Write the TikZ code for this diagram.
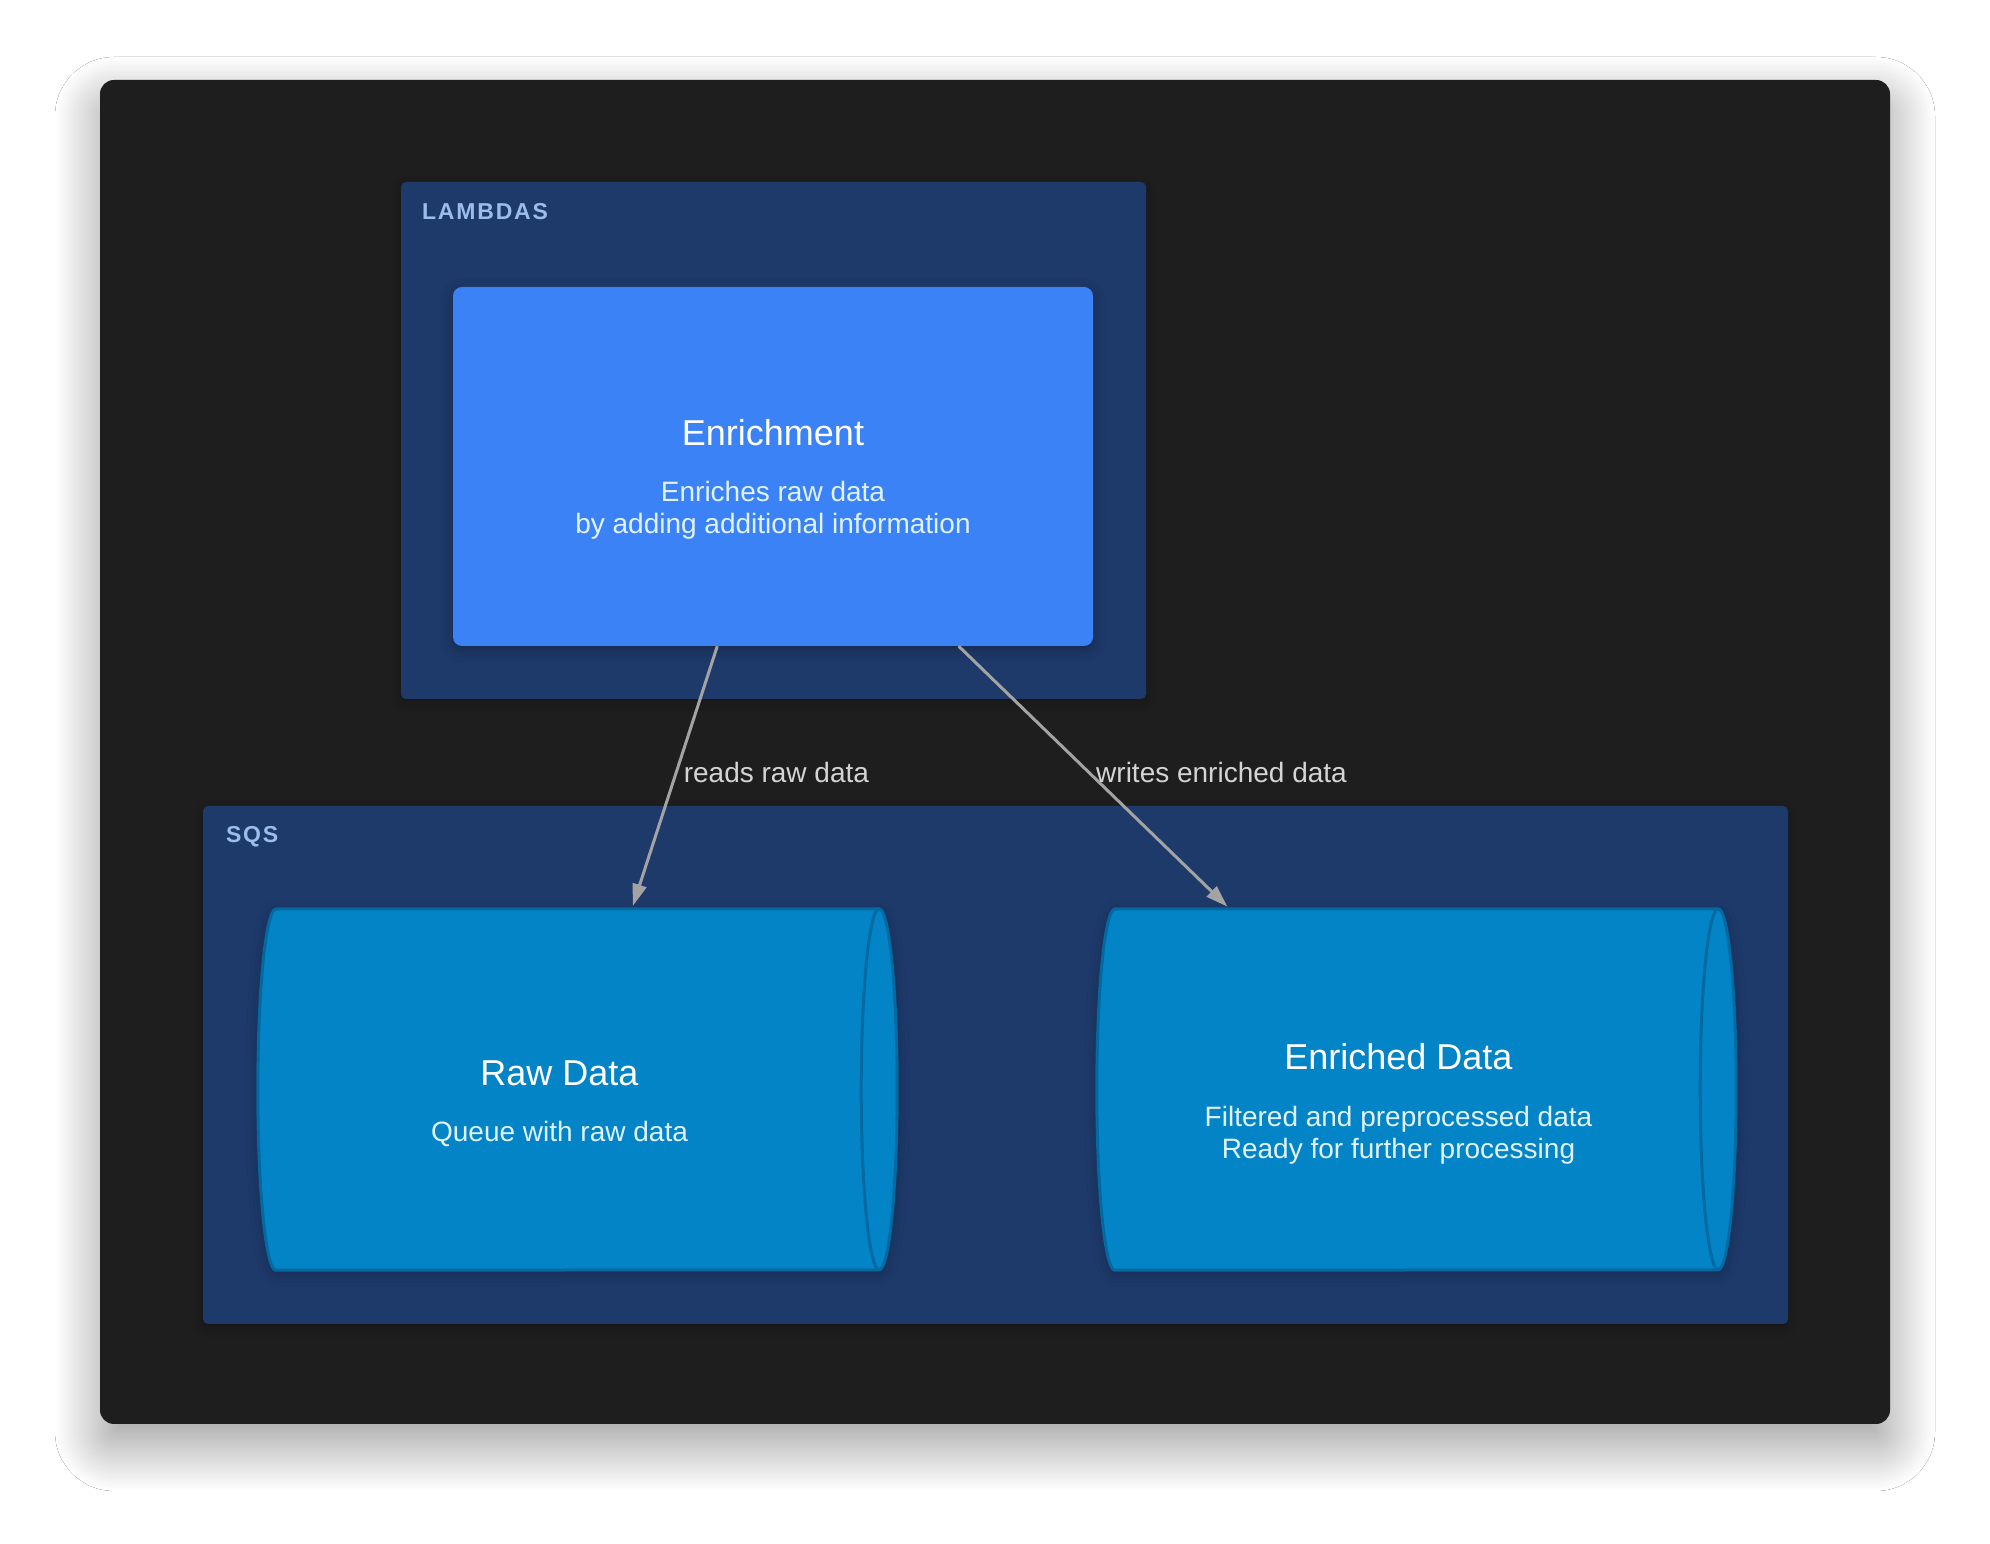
\documentclass[tikz,border=0pt]{standalone}
\usepackage{fontspec}
\setmainfont{Liberation Sans}
\usepackage{xcolor}
\usepackage{tikz}
\usetikzlibrary{arrows.meta,positioning,calc,shadows.blur}

\definecolor{canvas}{HTML}{1E1E1E}
\definecolor{groupbg}{HTML}{1E3A6B}
\definecolor{grouptxt}{HTML}{9BBDEB}
\definecolor{lambdabg}{HTML}{3B82F6}
\definecolor{queuebg}{HTML}{0284C7}
\definecolor{queueline}{HTML}{0369A1}
\definecolor{flowline}{HTML}{A3A3A3}
\definecolor{flowtxt}{HTML}{D4D4D4}
\definecolor{subtxt}{HTML}{E0F2FE}

\newcommand{\titlesize}{\fontsize{36}{40}\selectfont}
\newcommand{\subsize}{\fontsize{28}{32}\selectfont}

\begin{document}
\begin{tikzpicture}[x=1pt,y=1pt,
  group/.style={fill=groupbg,rounded corners=5pt,inner sep=0pt,
    blur shadow={shadow xshift=0pt,shadow yshift=-4pt,shadow blur radius=10pt,shadow opacity=25}},
  grouplabel/.style={anchor=base west,inner sep=0pt,text=grouptxt,
    font=\fontsize{23}{28}\selectfont\bfseries\addfontfeature{LetterSpace=8}},
  lambda/.style={fill=lambdabg,rounded corners=9pt,inner sep=0pt,
    blur shadow={shadow xshift=0pt,shadow yshift=-4pt,shadow blur radius=12pt,shadow opacity=30}},
  body/.style={inner sep=0pt,minimum width=603pt,minimum height=361pt},
  queue/.style={fill=queuebg,draw=queueline,line width=3pt,line join=round},
  desc/.style={align=center,text=white,font=\subsize,inner sep=0pt},
  flow/.style={draw=flowline,line width=3pt,-{Triangle[length=22pt,width=14pt]},shorten >=3pt},
  flowlabel/.style={anchor=west,text=flowtxt,font=\fontsize{28}{32}\selectfont,inner sep=6pt}]

  \fill[white] (0,0) rectangle (1990,1544);
  \useasboundingbox (0,0) rectangle (1990,1544);
  % Canvas
  \fill[canvas,rounded corners=14pt,
    blur shadow={shadow xshift=0pt,shadow yshift=-22pt,shadow blur radius=45pt,
      shadow blur steps=60,shadow opacity=40}]
    (100,120) rectangle (1890,1464);

  % Groups
  \node[group,minimum width=745pt,minimum height=517pt] (lambdas) at (773.5,1103.5) {};
  \node[grouplabel] (lambdaslbl) at ([shift={(21pt,-38pt)}]lambdas.north west) {LAMBDAS};
  \node[group,minimum width=1585pt,minimum height=518pt] (sqs) at (995.5,479) {};
  \node[grouplabel] (sqslbl) at ([shift={(23pt,-37pt)}]sqs.north west) {SQS};

  % Lambda
  \node[lambda,minimum width=640pt,minimum height=359pt] (enrich) at (773,1077.5) {};
  \node[desc] (enrichtxt) at ([yshift=-13pt]enrich.center)
    {{\titlesize Enrichment}\\[24.5pt]{\color{subtxt}Enriches raw data}\\{\color{subtxt}by adding additional information}};

  % Queues
  \node[body] (raw) at (559.5,454.5) {};
  \node[body] (enriched) at (1398.5,454.5) {};
  \foreach \q in {raw,enriched} {
    \draw[queue,blur shadow={shadow xshift=0pt,shadow yshift=-4pt,shadow blur radius=12pt,shadow opacity=25}]
      ($(\q.north west)+(18,0)$) -- ($(\q.north east)+(18,0)$)
      arc[start angle=90,end angle=-90,x radius=18,y radius=180.5]
      -- ($(\q.south west)+(18,0)$)
      arc[start angle=270,end angle=90,x radius=18,y radius=180.5] -- cycle;
    \draw[queueline,line width=3pt] ($(\q.north east)+(18,0)$)
      arc[start angle=90,end angle=270,x radius=18,y radius=180.5];
  }
  \node[desc] (rawtxt) at ([yshift=-14pt]raw.center)
    {{\titlesize Raw Data}\\[24pt]{\color{subtxt}Queue with raw data}};
  \node[desc] (enrichedtxt) at ([yshift=-14pt]enriched.center)
    {{\titlesize Enriched Data}\\[25pt]{\color{subtxt}Filtered and preprocessed data}\\{\color{subtxt}Ready for further processing}};

  % Flows
  \draw[flow] ($(enrich.south west)!0.413!(enrich.south east)$)
    -- node[flowlabel,pos=0.48] (readlbl) {reads raw data}
    ($(raw.north west)!0.62!(raw.north east)$);
  \draw[flow] ($(enrich.south west)!0.79!(enrich.south east)$)
    -- node[flowlabel,pos=0.48] (writelbl) {writes enriched data}
    ($(enriched.north west)!0.22!(enriched.north east)$);
\end{tikzpicture}
\end{document}
